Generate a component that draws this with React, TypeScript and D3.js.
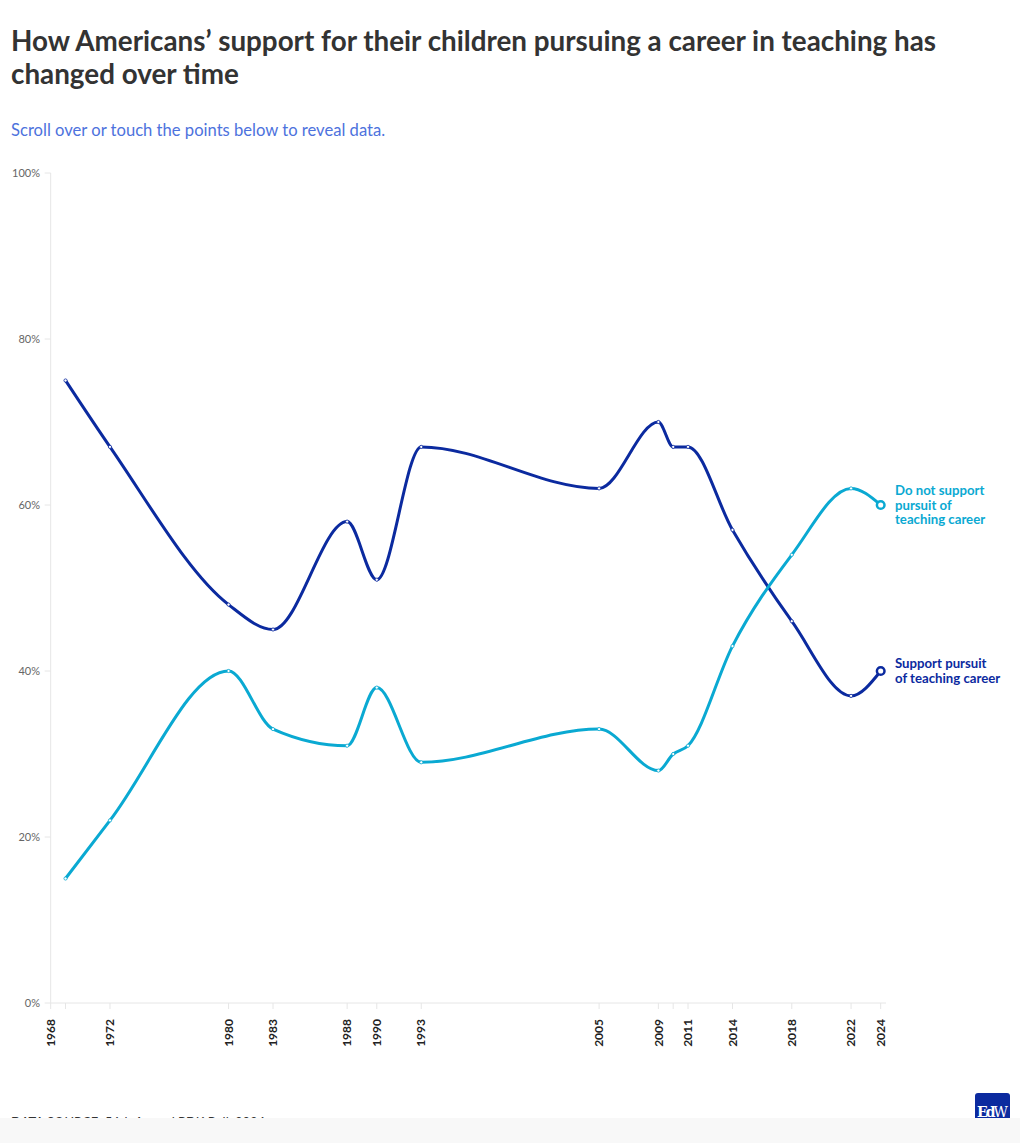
import React from "react";
import * as d3 from "d3";

const years = [1969, 1972, 1980, 1983, 1988, 1990, 1993, 2005, 2009, 2010, 2011, 2014, 2018, 2022, 2024];
const supportValues = [75, 67, 48, 45, 58, 51, 67, 62, 70, 67, 67, 57, 46, 37, 40];
const notSupportValues = [15, 22, 40, 33, 31, 38, 29, 33, 28, 30, 31, 43, 54, 62, 60];
const tickYears = [1968, 1969, 1972, 1980, 1983, 1988, 1990, 1993, 2005, 2009, 2010, 2011, 2014, 2018, 2022, 2024];
const labeledYears = [1968, 1972, 1980, 1983, 1988, 1990, 1993, 2005, 2009, 2011, 2014, 2018, 2022, 2024];
const yTicks = [0, 20, 40, 60, 80, 100];
const seriesNames = ["Support pursuit of teaching career", "Do not support pursuit of teaching career"];
const supportLabel = ["Support pursuit", "of teaching career"];
const notSupportLabel = ["Do not support", "pursuit of", "teaching career"];

const DARK = "#0b2a9f";
const CYAN = "#0aa9d2";
const FONT = "Lato, 'Open Sans', sans-serif";

export default function App() {
  const W = 1020, H = 1143;
  const x = d3.scaleLinear().domain([1968, 2024]).range([50.7, 880.7]);
  const y = d3.scaleLinear().domain([0, 100]).range([1003, 173]);
  const line = d3.line<[number, number]>().x(d => x(d[0])).y(d => y(d[1])).curve(d3.curveMonotoneX);
  const sData: [number, number][] = years.map((yr, i) => [yr, supportValues[i]]);
  const nData: [number, number][] = years.map((yr, i) => [yr, notSupportValues[i]]);
  const series = [
    { name: seriesNames[0], data: sData, color: DARK, label: supportLabel },
    { name: seriesNames[1], data: nData, color: CYAN, label: notSupportLabel },
  ];
  const LH = 14.5;
  return (
    <div style={{ position: "absolute", left: 0, top: 0 }}>
      <svg width={W} height={H} style={{ display: "block", fontFamily: FONT }}>
        <rect x={0} y={0} width={W} height={H} fill="#fff" />
        <text x={11} y={51} fontSize={27.8} fontWeight={700} fill="#333">How Americans’ support for their children pursuing a career in teaching has</text>
        <text x={11} y={84} fontSize={27.8} fontWeight={700} fill="#333">changed over time</text>
        <text x={11} y={136} fontSize={16.6} fill="#4d72dd">Scroll over or touch the points below to reveal data.</text>

        {/* axes */}
        <line x1={x(1968)} x2={x(1968)} y1={y(100)} y2={y(0)} stroke="#e6e6e6" strokeWidth={1} />
        <line x1={x(1968)} x2={886} y1={y(0)} y2={y(0)} stroke="#e6e6e6" strokeWidth={1} />
        {yTicks.map(t => (
          <g key={t}>
            <line x1={x(1968) - 6} x2={x(1968)} y1={y(t)} y2={y(t)} stroke="#e6e6e6" />
            <text x={40} y={y(t)} dy="0.35em" textAnchor="end" fontSize={11} fill="#666">{t}%</text>
          </g>
        ))}
        {tickYears.map(t => (
          <line key={t} x1={x(t)} x2={x(t)} y1={y(0)} y2={y(0) + 6} stroke="#e6e6e6" />
        ))}
        {labeledYears.map(t => (
          <text key={t} transform={`translate(${x(t)},${y(0) + 16}) rotate(-90)`} textAnchor="end" dy="0.35em" fontSize={12} fontWeight={700} fill="#222">{t}</text>
        ))}

        {series.map(s => {
          const last = s.data[s.data.length - 1];
          const cy = y(last[1]);
          const n = s.label.length;
          return (
            <g key={s.name}>
              <path d={line(s.data) || ""} fill="none" stroke={s.color} strokeWidth={3} />
              {s.data.slice(0, -1).map(d => (
                <circle key={d[0]} cx={x(d[0])} cy={y(d[1])} r={1.6} fill="#fff" stroke={s.color} strokeWidth={0.8} />
              ))}
              <circle cx={x(last[0])} cy={cy} r={3.8} fill="#fff" stroke={s.color} strokeWidth={2.5} />
              {s.label.map((l, i) => (
                <text key={i} x={895} y={cy + (i - (n - 1) / 2) * LH + 4.5} fontSize={13.2} fontWeight={700} fill={s.color}>{l}</text>
              ))}
            </g>
          );
        })}

        <text x={11} y={1127} fontSize={13} fill="#333">DATA SOURCE: 56th Annual PDK Poll, 2024</text>
        <rect x={975} y={1093} width={35} height={40} rx={3} fill={DARK} />
        <text x={977} y={1117} fontSize={14} fill="#fff" fontFamily="'DejaVu Serif', serif" textLength={31}><tspan fontWeight={700}>Ed</tspan>W</text>
        <rect x={0} y={1118} width={W} height={H - 1118} fill="#f8f8f8" />
      </svg>
    </div>
  );
}
